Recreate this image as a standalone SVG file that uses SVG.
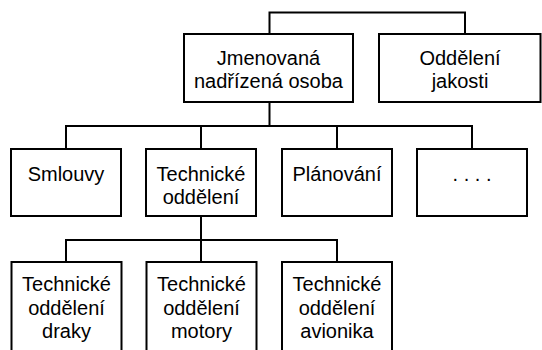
<svg xmlns="http://www.w3.org/2000/svg" width="542" height="350" viewBox="0 0 542 350">
<style>
.box{fill:#fff;stroke:#000;stroke-width:2}
.con{fill:none;stroke:#000;stroke-width:2}
text{font-family:"Liberation Sans",Arial,sans-serif;font-size:20px;fill:#000;text-anchor:middle}
</style>
<rect width="542" height="350" fill="#fff"/>
<g id="connectors">
<path class="con" d="M269.5 34V12.5H465V34"/>
<path class="con" d="M269.5 102V126"/>
<path class="con" d="M66 149V126H472V149M201 126V149M337 126V149"/>
<path class="con" d="M201 216V240"/>
<path class="con" d="M66 262V240H337V262M201 240V262"/>
</g>
<g id="n-jmenovana">
<rect class="box" x="184" y="34" width="169" height="68"/>
<text x="268.5" y="65">Jmenovaná</text>
<text x="268.5" y="88">nadřízená osoba</text>
</g>
<g id="n-jakost">
<rect class="box" x="379" y="34" width="161.5" height="68"/>
<text x="460" y="65">Oddělení</text>
<text x="460" y="88">jakosti</text>
</g>
<g id="n-smlouvy">
<rect class="box" x="11" y="149" width="110" height="67"/>
<text x="66" y="181">Smlouvy</text>
</g>
<g id="n-technicke">
<rect class="box" x="146" y="149" width="110" height="67"/>
<text x="201" y="181">Technické</text>
<text x="201" y="204">oddělení</text>
</g>
<g id="n-planovani">
<rect class="box" x="282" y="149" width="110" height="67"/>
<text x="337" y="181">Plánování</text>
</g>
<g id="n-dalsi">
<rect class="box" x="417" y="149" width="110" height="67"/>
<text x="472" y="181">. . . .</text>
</g>
<g id="n-draky">
<rect class="box" x="11.5" y="262" width="110" height="100"/>
<text x="66.5" y="291">Technické</text>
<text x="66.5" y="314.5">oddělení</text>
<text x="66.5" y="338">draky</text>
</g>
<g id="n-motory">
<rect class="box" x="146.5" y="262" width="110" height="100"/>
<text x="201.5" y="291">Technické</text>
<text x="201.5" y="314.5">oddělení</text>
<text x="201.5" y="338">motory</text>
</g>
<g id="n-avionika">
<rect class="box" x="282" y="262" width="110" height="100"/>
<text x="337" y="291">Technické</text>
<text x="337" y="314.5">oddělení</text>
<text x="337" y="338">avionika</text>
</g>
</svg>
